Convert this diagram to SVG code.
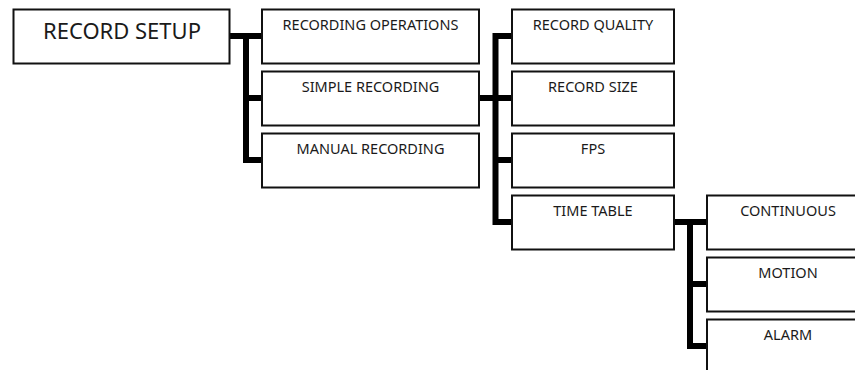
<svg xmlns="http://www.w3.org/2000/svg" width="855" height="370" viewBox="0 0 855 370">
<style>
.box{fill:#fff;stroke:#111;stroke-width:2}
.t{font-family:"Noto Sans","Open Sans","Liberation Sans",sans-serif;font-size:14.5px;fill:#1a1a1a;text-anchor:middle}
.big{font-size:22px}
.c{fill:none;stroke:#000;stroke-width:6;stroke-linecap:butt;stroke-linejoin:miter}
</style>
<rect width="855" height="370" fill="#fff"/>
<g id="connectors">
<path class="c" d="M230 36H262M246 33V163M246 98H262M246 160H262"/>
<path class="c" d="M479 98H512M495.5 33V225M495.5 36H512M495.5 160H512M495.5 222H512"/>
<path class="c" d="M674 222H707M690 219V349M690 284H707M690 346H707"/>
</g>
<g id="record-setup"><rect class="box" x="13.5" y="9.5" width="216" height="54"/><text class="t big" x="122" y="38.5">RECORD SETUP</text></g>
<g id="recording-operations"><rect class="box" x="262" y="9.5" width="217" height="54"/><text class="t" x="370.5" y="30">RECORDING OPERATIONS</text></g>
<g id="simple-recording"><rect class="box" x="262" y="71.5" width="217" height="54"/><text class="t" x="370.5" y="92">SIMPLE RECORDING</text></g>
<g id="manual-recording"><rect class="box" x="262" y="133.5" width="217" height="54"/><text class="t" x="370.5" y="154">MANUAL RECORDING</text></g>
<g id="record-quality"><rect class="box" x="512" y="9.5" width="162" height="54"/><text class="t" x="593" y="30">RECORD QUALITY</text></g>
<g id="record-size"><rect class="box" x="512" y="71.5" width="162" height="54"/><text class="t" x="593" y="92">RECORD SIZE</text></g>
<g id="fps"><rect class="box" x="512" y="133.5" width="162" height="54"/><text class="t" x="593" y="154">FPS</text></g>
<g id="time-table"><rect class="box" x="512" y="195.5" width="162" height="54"/><text class="t" x="593" y="216">TIME TABLE</text></g>
<g id="continuous"><rect class="box" x="707" y="195.5" width="162" height="54"/><text class="t" x="788" y="216">CONTINUOUS</text></g>
<g id="motion"><rect class="box" x="707" y="257.5" width="162" height="54"/><text class="t" x="788" y="278">MOTION</text></g>
<g id="alarm"><rect class="box" x="707" y="319.5" width="162" height="54"/><text class="t" x="788" y="340">ALARM</text></g>
</svg>
